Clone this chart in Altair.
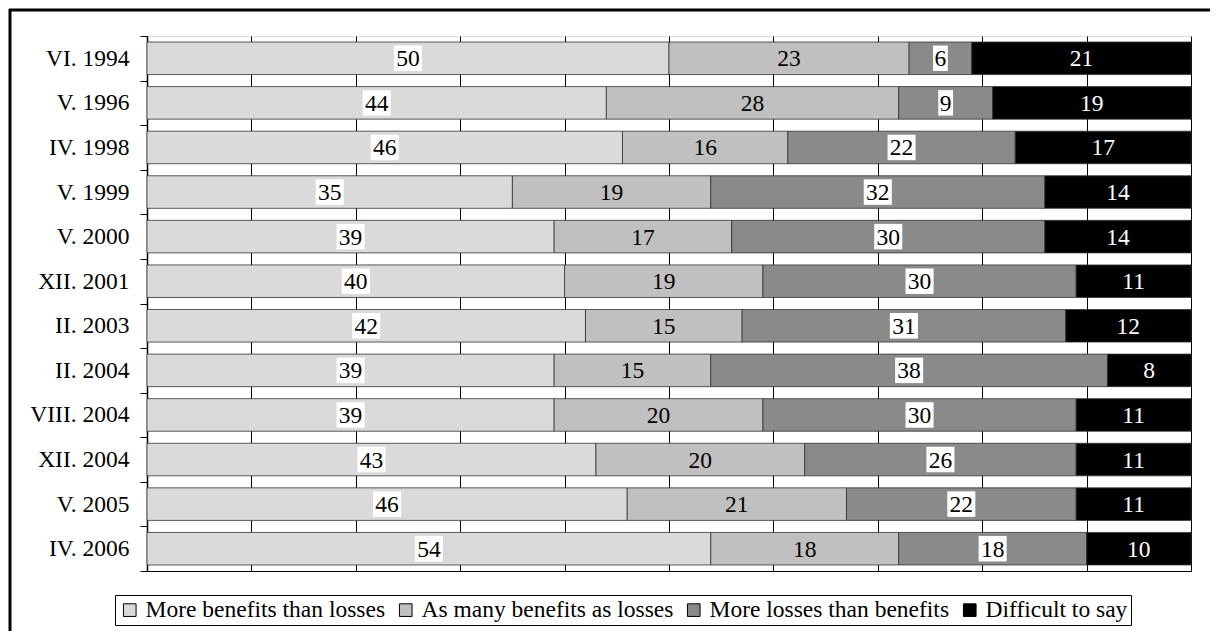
import altair as alt
import pandas as pd

periods = ["VI. 1994", "V. 1996", "IV. 1998", "V. 1999", "V. 2000", "XII. 2001",
           "II. 2003", "II. 2004", "VIII. 2004", "XII. 2004", "V. 2005", "IV. 2006"]
series = ["More benefits than losses", "As many benefits as losses",
          "More losses than benefits", "Difficult to say"]
more_benefits = [50, 44, 46, 35, 39, 40, 42, 39, 39, 43, 46, 54]
as_many = [23, 28, 16, 19, 17, 19, 15, 15, 20, 20, 21, 18]
more_losses = [6, 9, 22, 32, 30, 30, 31, 38, 30, 26, 22, 18]
difficult = [21, 19, 17, 14, 14, 11, 12, 8, 11, 11, 11, 10]
colors = ["#dadada", "#c0c0c0", "#8a8a8a", "#000000"]
grid_values = [0, 0.1, 0.2, 0.3, 0.4, 0.5, 0.6, 0.7, 0.8, 0.9, 1.0]

rows = []
for i, p in enumerate(periods):
    for j, vals in enumerate([more_benefits, as_many, more_losses, difficult]):
        rows.append({"period": p, "series": series[j], "order": j, "value": vals[i]})
df = pd.DataFrame(rows)

FONT = "Liberation Serif"
FS = 23.5

base = alt.Chart(df).transform_stack(
    stack="value", groupby=["period"], as_=["x0", "x1"], offset="normalize",
    sort=[alt.SortField("order", order="ascending")]
).transform_calculate(
    mid="(datum.x0 + datum.x1) / 2",
    lab="'' + datum.value",
    boxw="datum.value < 10 ? 'one' : 'two'"
)

yenc = alt.Y("period:N", sort=periods,
             scale=alt.Scale(paddingInner=0, paddingOuter=0),
             axis=alt.Axis(title=None, tickBand="extent", labelFont=FONT, labelFontSize=FS,
                           labelColor="black", tickSize=7, labelPadding=11,
                           domainColor="black", tickColor="black", domainWidth=1.5,
                           grid=False))

xscale = alt.Scale(domain=[0, 1], nice=False, zero=True)

bars = base.mark_bar(height=alt.RelativeBandSize(band=0.73), stroke="#333333",
                     strokeWidth=0.8).encode(
    x=alt.X("x0:Q", scale=xscale,
            axis=alt.Axis(title=None, labels=False, ticks=False, values=grid_values,
                          grid=True, gridColor="black", gridOpacity=1, gridWidth=1,
                          domainColor="black")),
    x2="x1:Q",
    y=yenc,
    color=alt.Color("series:N", sort=series,
                    scale=alt.Scale(domain=series, range=colors),
                    legend=alt.Legend(orient="none", legendX=-32, legendY=559,
                                      direction="horizontal", columns=4, title=None,
                                      symbolType="square", symbolSize=160,
                                      symbolStrokeColor="black", symbolStrokeWidth=1,
                                      labelFont=FONT, labelFontSize=FS, labelColor="black",
                                      labelLimit=0, strokeColor="black", padding=3,
                                      columnPadding=8, labelOffset=4)),
)

boxes = base.transform_filter("datum.order == 0 || datum.order == 2").mark_point(
    filled=True, fill="white", opacity=1, strokeWidth=0
).encode(
    x=alt.X("mid:Q", scale=xscale),
    y=alt.Y("period:N", sort=periods),
    shape=alt.Shape("boxw:N", scale=alt.Scale(
        domain=["one", "two"],
        range=["M-0.58,-1L0.58,-1L0.58,1L-0.58,1Z", "M-1.1,-1L1.1,-1L1.1,1L-1.1,1Z"]),
        legend=None),
    size=alt.value(650),
)

labels = base.mark_text(font=FONT, fontSize=FS, baseline="middle", dy=1).encode(
    x=alt.X("mid:Q", scale=xscale),
    y=alt.Y("period:N", sort=periods),
    text="lab:N",
    color=alt.condition("datum.order == 3", alt.value("white"), alt.value("black")),
)

one = pd.DataFrame({"k": [0]})
frame_top = alt.Chart(one).mark_rule(color="black", strokeWidth=3).encode(
    x=alt.value(-138), x2=alt.value(1100), y=alt.value(-26))
frame_left = alt.Chart(one).mark_rule(color="black", strokeWidth=3).encode(
    x=alt.value(-137), y=alt.value(-27), y2=alt.value(700))

chart = alt.layer(bars, boxes, labels, frame_top, frame_left).properties(
    width=1044, height=535,
    autosize=alt.AutoSizeParams(type="none"),
    padding={"left": 139, "top": 28, "right": 19, "bottom": 60},
).configure_view(stroke="black", strokeWidth=1).configure(background="white")

chart.save("out.html", embed_options={"renderer": "svg", "actions": False})
